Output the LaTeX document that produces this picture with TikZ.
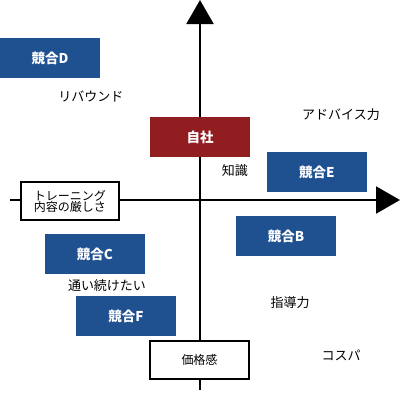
\documentclass[tikz,border=0pt]{standalone}
\usepackage{fontspec}
\setmainfont{Noto Sans CJK JP}
\usetikzlibrary{arrows.meta}
\definecolor{compblue}{HTML}{1F5191}
\definecolor{selfred}{HTML}{921D21}
\begin{document}
\begin{tikzpicture}[x=1pt,y=-1pt,
  compbox/.style={fill=compblue,minimum width=100pt,minimum height=40pt,inner sep=0pt,text=white,font=\fontsize{13.5}{15}\selectfont\bfseries},
  selfbox/.style={compbox,fill=selfred},
  axisbox/.style={draw=black,line width=2pt,fill=white,inner sep=0pt,align=center,font=\fontsize{12}{13}\selectfont},
  lbl/.style={font=\fontsize{13}{15}\selectfont,inner sep=0pt},
  axisline/.style={line width=2.2pt,-{Triangle[width=27pt,length=24pt]}}]
\useasboundingbox (0,0) rectangle (400,400);
% axes
\coordinate (xl) at (10,200);
\coordinate (xr) at (400,200);
\coordinate (yb) at (200,390);
\coordinate (yt) at (200,0);
\draw[axisline] (xl) -- (xr);
\draw[axisline] (yb) -- (yt);
% axis boxes
\node[axisbox,minimum width=98pt,minimum height=38pt] (train) at (70,201) {トレーニング\\[-2pt]内容の厳しさ};
\node[axisbox,minimum width=99pt,minimum height=38pt] (price) at (199.5,360) {価格感};
% boxes
\node[compbox] (d) at (50,58) {競合D};
\node[selfbox] (self) at (200,137) {自社};
\node[compbox] (e) at (317,172) {競合E};
\node[compbox] (b) at (286,236) {競合B};
\node[compbox] (c) at (95,254) {競合C};
\node[compbox] (f) at (126,316) {競合F};
% labels
\node[lbl] (l1) at (91,96) {リバウンド};
\node[lbl] (l2) at (341,115) {アドバイス力};
\node[lbl] (l3) at (235,171) {知識};
\node[lbl] (l4) at (107,286) {通い続けたい};
\node[lbl] (l5) at (290,303) {指導力};
\node[lbl] (l6) at (341,355) {コスパ};
\end{tikzpicture}
\end{document}
